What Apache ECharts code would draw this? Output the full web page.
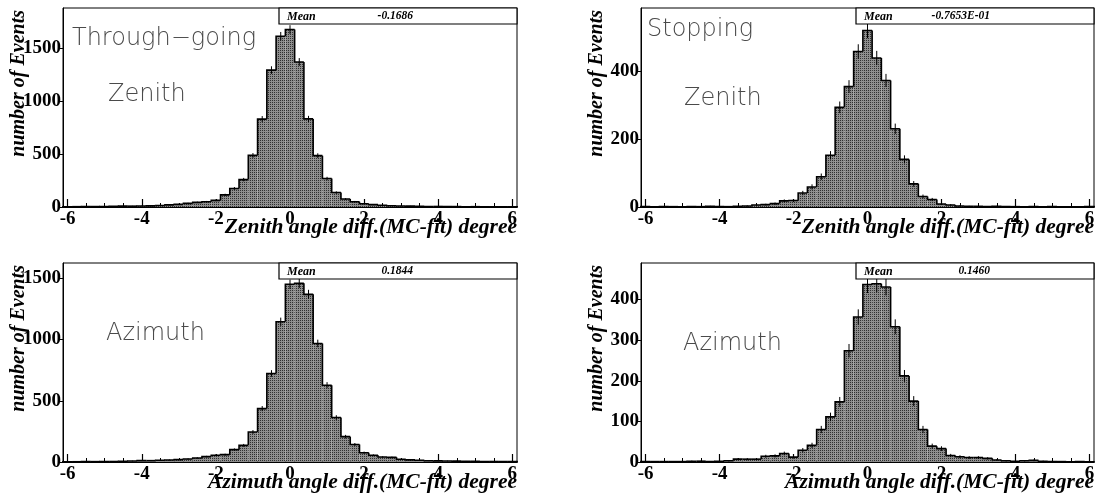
<!DOCTYPE html>
<html>
<head>
<meta charset="utf-8">
<script src="https://cdn.jsdelivr.net/npm/echarts@6/dist/echarts.min.js"></script>
<style>
  html, body { margin: 0; padding: 0; background: #fff; }
  #chart { width: 1098px; height: 502px; }
</style>
</head>
<body>
<div id="chart"></div>
<script>
// Bin centres (bin width 0.25 degree, range -6.125 .. 6.125)
const binCenters = [
  -6, -5.75, -5.5, -5.25, -5, -4.75, -4.5, -4.25, -4, -3.75, -3.5, -3.25, -3, -2.75, -2.5, -2.25,
  -2, -1.75, -1.5, -1.25, -1, -0.75, -0.5, -0.25, 0, 0.25, 0.5, 0.75, 1, 1.25, 1.5, 1.75,
  2, 2.25, 2.5, 2.75, 3, 3.25, 3.5, 3.75, 4, 4.25, 4.5, 4.75, 5, 5.25, 5.5, 5.75, 6
];

// Through-going muons, zenith angle difference
const throughZenith = [
  3, 3, 4, 4, 5, 6, 8, 8, 9, 11, 14, 20, 25, 34, 44, 50,
  62, 114, 175, 258, 486, 828, 1290, 1609, 1672, 1366, 830, 484, 268, 136, 75, 50,
  31, 22, 16, 12, 10, 8, 7, 5, 5, 4, 4, 3, 3, 2, 2, 2, 2
];
// Stopping muons, zenith angle difference
const stoppingZenith = [
  1, 0, 1, 1, 0, 1, 1, 2, 1, 1, 2, 3, 6, 7, 10, 18,
  19, 41, 59, 89, 152, 293, 354, 457, 519, 438, 372, 230, 140, 68, 31, 22,
  9, 6, 3, 2, 2, 1, 2, 1, 1, 0, 1, 0, 1, 0, 0, 0, 1
];
// Through-going muons, azimuth angle difference
const throughAzimuth = [
  2, 2, 3, 3, 4, 4, 5, 8, 11, 11, 14, 16, 19, 25, 33, 44,
  55, 60, 101, 136, 245, 436, 723, 1145, 1451, 1459, 1369, 968, 627, 363, 207, 143,
  76, 55, 41, 38, 22, 17, 14, 10, 9, 8, 7, 6, 5, 4, 4, 3, 3
];
// Stopping muons, azimuth angle difference
const stoppingAzimuth = [
  1, 1, 1, 1, 1, 2, 2, 1, 2, 3, 7, 7, 7, 14, 15, 21,
  12, 29, 41, 80, 111, 148, 274, 357, 437, 439, 431, 333, 212, 150, 80, 39,
  33, 16, 13, 11, 11, 9, 5, 3, 2, 3, 4, 2, 1, 1, 0, 1, 0
];

const meanLabels = ['-0.1686', '-0.7653E-01', '0.1844', '0.1460'];
const sampleLabels = [['Through\u2212going', 'Zenith'], ['Stopping', 'Zenith'], ['Azimuth'], ['Azimuth']];
const xTitles = [
  'Zenith angle diff.(MC-fit) degree', 'Zenith angle diff.(MC-fit) degree',
  'Azimuth angle diff.(MC-fit) degree', 'Azimuth angle diff.(MC-fit) degree'
];
const yTitle = 'number of Events';

const xMajorTicks = [-6, -4, -2, 0, 2, 4, 6];
const xMinorTicks = [-6, -5.5, -5, -4.5, -4, -3.5, -3, -2.5, -2, -1.5, -1, -0.5, 0, 0.5, 1, 1.5, 2, 2.5, 3, 3.5, 4, 4.5, 5, 5.5, 6];
const yTickSets = [[0, 500, 1000, 1500], [0, 200, 400], [0, 500, 1000, 1500], [0, 100, 200, 300, 400]];
const yMaxes = [1875, 585, 1625, 490];
const yIntervals = [500, 200, 500, 100];

const panelValues = [throughZenith, stoppingZenith, throughAzimuth, stoppingAzimuth];

// ---- layout ----
const BIN_HALF = 0.125;
const X_MIN = -6.125, X_MAX = 6.125;
const panels = [
  { left: 63, top: 8, width: 454, height: 199 },
  { left: 641, top: 8, width: 453, height: 199 },
  { left: 63, top: 263, width: 454, height: 199 },
  { left: 641, top: 263, width: 453, height: 199 }
];
const labelPos = [
  [[72, 39], [108, 94.5]],
  [[647, 30], [684, 98.5]],
  [[106, 333.5]],
  [[683, 343.5]]
];

const SERIF = '"Liberation Serif", "DejaVu Serif", serif';
const THIN = '"DejaVu Sans", "Open Sans", sans-serif';

// Small dotted texture used as histogram fill
function makeHatch() {
  const cv = document.createElement('canvas');
  cv.width = 2; cv.height = 2;
  const g = cv.getContext('2d');
  g.fillStyle = '#8e8e8e';
  g.fillRect(0, 0, 2, 2);
  g.fillStyle = '#303030';
  g.fillRect(0, 0, 1, 1);
  return cv;
}
const hatch = { image: makeHatch(), repeat: 'repeat' };

function histRenderer(values) {
  const last = values.length - 1;
  return function (params, api) {
    const i = params.dataIndex;
    const c = api.value(0);
    const v = api.value(1);
    const prev = i > 0 ? values[i - 1] : 0;
    const base = api.coord([c - BIN_HALF, 0]);
    const topR = api.coord([c + BIN_HALF, v]);
    const yPrev = api.coord([c, prev])[1];
    const children = [];
    if (v > 0) {
      children.push({
        type: 'rect',
        shape: { x: base[0], y: topR[1], width: topR[0] - base[0], height: base[1] - topR[1] },
        style: { fill: hatch }
      });
    }
    const pts = [[base[0], yPrev], [base[0], topR[1]], [topR[0], topR[1]]];
    if (i === last) pts.push([topR[0], base[1]]);
    children.push({
      type: 'polyline',
      shape: { points: pts },
      style: { stroke: '#000', lineWidth: 1.6, fill: null }
    });
    if (v > 0) {
      const e = Math.sqrt(v);
      const a = api.coord([c, v + e]);
      const b = api.coord([c, Math.max(0, v - e)]);
      children.push({
        type: 'line',
        shape: { x1: a[0], y1: a[1], x2: b[0], y2: b[1] },
        style: { stroke: '#000', lineWidth: 1 }
      });
    }
    return { type: 'group', children: children };
  };
}

const plainNumber = function (v) { return String(v); };

const grid = [], xAxis = [], yAxis = [], series = [], graphic = [];

panels.forEach(function (p, k) {
  grid.push({
    left: p.left, top: p.top, width: p.width, height: p.height,
    show: true, borderColor: '#000', borderWidth: 1, backgroundColor: 'transparent'
  });
  // main x axis: labels and long ticks
  xAxis.push({
    type: 'value', gridIndex: k, min: X_MIN, max: X_MAX, position: 'bottom',
    axisLine: { show: true, onZero: false, lineStyle: { color: '#000', width: 2 } },
    axisTick: { show: true, inside: true, length: 8, customValues: xMajorTicks, lineStyle: { color: '#000', width: 1.2 } },
    axisLabel: {
      show: true, customValues: xMajorTicks, margin: 3, formatter: plainNumber,
      fontFamily: SERIF, fontWeight: 'bold', fontSize: 19, color: '#000'
    },
    splitLine: { show: false }
  });
  // secondary x axis: half-degree ticks
  xAxis.push({
    type: 'value', gridIndex: k, min: X_MIN, max: X_MAX, position: 'bottom',
    axisLine: { show: false, onZero: false },
    axisTick: { show: true, inside: true, length: 4, customValues: xMinorTicks, lineStyle: { color: '#000', width: 1 } },
    axisLabel: { show: false },
    splitLine: { show: false }
  });
  yAxis.push({
    type: 'value', gridIndex: k, min: 0, max: yMaxes[k], interval: yIntervals[k],
    axisLine: { show: true, onZero: false, lineStyle: { color: '#000', width: 1 } },
    axisTick: { show: true, inside: false, length: 4, customValues: yTickSets[k], lineStyle: { color: '#000' } },
    axisLabel: {
      show: true, customValues: yTickSets[k], margin: 2, formatter: plainNumber,
      fontFamily: SERIF, fontWeight: 'bold', fontSize: 19, color: '#000'
    },
    splitLine: { show: false }
  });

  const vals = panelValues[k];
  series.push({
    type: 'custom',
    xAxisIndex: 2 * k, yAxisIndex: k,
    renderItem: histRenderer(vals),
    encode: { x: 0, y: 1 },
    data: binCenters.map(function (c, i) { return [c, vals[i]]; }),
    animation: false,
    silent: true
  });

  const right = p.left + p.width;
  const bottom = p.top + p.height;

  // statistics box
  const boxLeft = right - 238;
  graphic.push({
    type: 'rect', z: 100,
    shape: { x: boxLeft, y: p.top, width: 238, height: 16 },
    style: { fill: '#fff', stroke: '#000', lineWidth: 1.2 }
  });
  graphic.push({
    type: 'text', z: 101, x: boxLeft + 8, y: p.top + 8.5,
    style: { text: 'Mean', font: 'italic bold 12px ' + SERIF, fill: '#000', align: 'left', verticalAlign: 'middle' }
  });
  graphic.push({
    type: 'text', z: 101, x: boxLeft + 134, y: p.top + 8.5,
    style: { text: meanLabels[k], font: 'italic bold 11.5px ' + SERIF, fill: '#000', align: 'right', verticalAlign: 'middle' }
  });

  // axis titles
  graphic.push({
    type: 'text', z: 90, x: right, y: bottom + 20,
    style: { text: xTitles[k], font: 'italic bold 21.5px ' + SERIF, fill: '#000', align: 'right', verticalAlign: 'middle' }
  });
  graphic.push({
    type: 'text', z: 90, x: p.left - 44, y: p.top + 2, rotation: Math.PI / 2,
    style: { text: yTitle, font: 'italic bold 20px ' + SERIF, fill: '#000', align: 'right', verticalAlign: 'middle' }
  });

  // sample labels
  sampleLabels[k].forEach(function (t, j) {
    graphic.push({
      type: 'text', z: 80, x: labelPos[k][j][0], y: labelPos[k][j][1],
      style: { text: t, font: '200 24px ' + THIN, fill: '#4a4a4a', align: 'left', verticalAlign: 'middle' }
    });
  });
});

const chart = echarts.init(document.getElementById('chart'), null, { renderer: 'canvas' });
chart.setOption({
  animation: false,
  backgroundColor: '#fff',
  grid: grid,
  xAxis: xAxis,
  yAxis: yAxis,
  series: series,
  graphic: graphic
});
</script>
</body>
</html>
